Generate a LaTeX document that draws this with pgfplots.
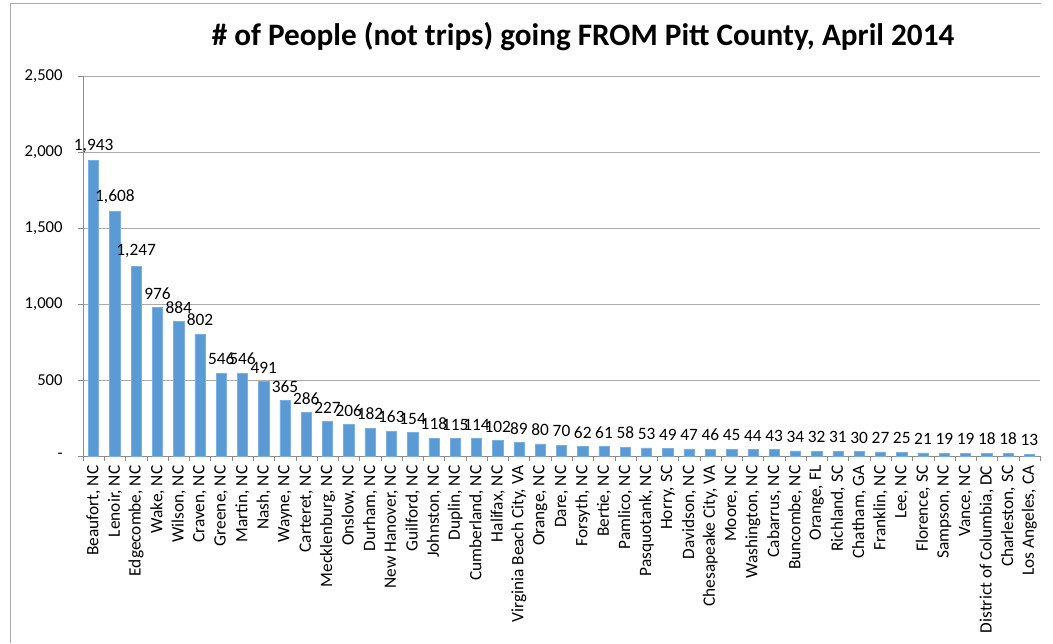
\documentclass[border=0pt]{standalone}
\usepackage{fontspec}
\setmainfont{Carlito}
\usepackage{pgfplots}
\pgfplotsset{compat=1.18}
\definecolor{barblue}{HTML}{5B9BD5}
\definecolor{gridgray}{HTML}{ABABAB}
\definecolor{axisgray}{HTML}{8C8C8C}
\newcommand{\tickfont}{\fontsize{13}{16}\selectfont}
\begin{document}
\begin{tikzpicture}[x=0.75pt,y=0.75pt]
\path[use as bounding box] (0,0) rectangle (1053,643);
\draw[gridgray] (10,0) -- (10,640) -- (1041,640);
\node[font=\bfseries\fontsize{23.4}{28}\selectfont, anchor=base] at (583,597)
  {\# of People (not trips) going FROM Pitt County, April 2014};
\begin{axis}[
  at={(62.25pt,140.25pt)}, anchor=south west,
  scale only axis, width=717.75pt, height=285pt,
  ybar, bar width=7.7pt,
  xmin=-0.5, xmax=44.5, ymin=0, ymax=2500,
  axis x line*=bottom, axis y line*=left,
  axis line style={axisgray},
  tick align=outside,
  xtick={0,...,44},
  major x tick style={draw=none},
  minor xtick={-0.5,0.5,...,44.5},
  minor tick length=3.75pt,
  minor x tick style={axisgray},
  ytick={0,500,...,2500},
  yticklabels={-,500,{1,000},{1,500},{2,000},{2,500}},
  major tick length=3.75pt,
  ytick style={axisgray},
  ymajorgrids, grid style={gridgray},
  yticklabel style={font=\fontsize{12.5}{15}\selectfont, xshift=-8pt},
  xticklabel style={font=\tickfont, rotate=90, anchor=east},
  xticklabels={{Beaufort, NC},{Lenoir, NC},{Edgecombe, NC},{Wake, NC},{Wilson, NC},
    {Craven, NC},{Greene, NC},{Martin, NC},{Nash, NC},{Wayne, NC},{Carteret, NC},
    {Mecklenburg, NC},{Onslow, NC},{Durham, NC},{New Hanover, NC},{Guilford, NC},
    {Johnston, NC},{Duplin, NC},{Cumberland, NC},{Halifax, NC},{Virginia Beach City, VA},
    {Orange, NC},{Dare, NC},{Forsyth, NC},{Bertie, NC},{Pamlico, NC},{Pasquotank, NC},
    {Horry, SC},{Davidson, NC},{Chesapeake City, VA},{Moore, NC},{Washington, NC},
    {Cabarrus, NC},{Buncombe, NC},{Orange, FL},{Richland, SC},{Chatham, GA},
    {Franklin, NC},{Lee, NC},{Florence, SC},{Sampson, NC},{Vance, NC},
    {District of Columbia, DC},{Charleston, SC},{Los Angeles, CA}},
  /pgf/number format/.cd, 1000 sep={,}, assume math mode=true, /pgfplots/.cd,
  nodes near coords,
  every node near coord/.append style={font=\tickfont, black, inner sep=2.5pt, yshift=3.5pt},
]
\addplot[fill=barblue, draw=barblue!80!white] coordinates {
  (0,1943) (1,1608) (2,1247) (3,976) (4,884) (5,802) (6,546) (7,546) (8,491)
  (9,365) (10,286) (11,227) (12,206) (13,182) (14,163) (15,154) (16,118)
  (17,115) (18,114) (19,102) (20,89) (21,80) (22,70) (23,62) (24,61) (25,58)
  (26,53) (27,49) (28,47) (29,46) (30,45) (31,44) (32,43) (33,34) (34,32)
  (35,31) (36,30) (37,27) (38,25) (39,21) (40,19) (41,19) (42,18) (43,18) (44,13)
};
\end{axis}
\end{tikzpicture}
\end{document}
